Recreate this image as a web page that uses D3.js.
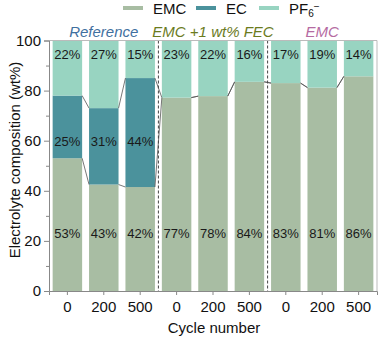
<!DOCTYPE html>
<html>
<head>
<meta charset="utf-8">
<script src="https://cdn.jsdelivr.net/npm/d3@7"></script>
<style>
  body { margin: 0; background: #fff; }
  text { font-family: "Liberation Sans", Arial, sans-serif; }
</style>
</head>
<body>
<svg class="chart" width="380" height="339"></svg>
<script>
// cycle number of each bar, and the electrolyte group it belongs to
var cycles = ["0", "200", "500", "0", "200", "500", "0", "200", "500"];
var groups = ["Reference", "EMC +1 wt% FEC", "EMC"];
var groupColors = ["#3f70a0", "#6b7b1e", "#b56ba2"];

// composition in wt%
var emc = [53, 42.5, 41.5, 77.2, 77.8, 83.5, 83, 81.2, 85.7];
var ec = [25, 30.5, 43.5, 0, 0, 0, 0, 0, 0];
var pf6 = [22, 27, 15, 22.8, 22.2, 16.5, 17, 18.8, 14.3];

// printed labels
var emcLabels = ["53%", "43%", "42%", "77%", "78%", "84%", "83%", "81%", "86%"];
var ecLabels = ["25%", "31%", "44%"];
var pf6Labels = ["22%", "27%", "15%", "23%", "22%", "16%", "17%", "19%", "14%"];

var colEMC = "#a8bda3",
  colEC = "#4b929c",
  colPF6 = "#98d4c1";

var plotLeft = 49, plotRight = 377, plotTop = 40.5, plotBottom = 291;

var svg = d3.select(".chart");

var x = d3.scaleBand()
  .domain(d3.range(cycles.length))
  .range([plotLeft, plotRight])
  .paddingInner(0.19)
  .paddingOuter(0.1);

var y = d3.scaleLinear().domain([0, 100]).range([plotBottom, plotTop]);

var stacks = cycles.map(function(c, i) {
  return [
    { y0: 0, y1: emc[i], color: colEMC },
    { y0: emc[i], y1: emc[i] + ec[i], color: colEC },
    { y0: emc[i] + ec[i], y1: emc[i] + ec[i] + pf6[i], color: colPF6 }
  ];
});

// bars
var bars = svg.selectAll("g.bar")
  .data(stacks)
  .enter()
  .append("g")
  .attr("class", "bar")
  .attr("transform", function(d, i) { return "translate(" + x(i) + ",0)"; });

bars.selectAll("rect")
  .data(function(d) { return d.filter(function(s) { return s.y1 > s.y0; }); })
  .enter()
  .append("rect")
  .attr("x", 0)
  .attr("width", x.bandwidth())
  .attr("y", function(s) { return y(s.y1); })
  .attr("height", function(s) { return y(s.y0) - y(s.y1); })
  .attr("fill", function(s) { return s.color; });

// connectors between neighbouring bars
var tops = [emc, emc.map(function(v, i) { return v + ec[i]; })];
tops.forEach(function(t) {
  for (var i = 0; i < cycles.length - 1; i++) {
    svg.append("line")
      .attr("x1", x(i) + x.bandwidth())
      .attr("x2", x(i + 1))
      .attr("y1", y(t[i]))
      .attr("y2", y(t[i + 1]))
      .attr("stroke", "#555")
      .attr("stroke-width", 0.8);
  }
});

// group separators
[3, 6].forEach(function(i) {
  var xs = (x(i - 1) + x.bandwidth() + x(i)) / 2;
  svg.append("line")
    .attr("x1", xs).attr("x2", xs)
    .attr("y1", plotTop).attr("y2", plotBottom)
    .attr("stroke", "#444")
    .attr("stroke-width", 1)
    .attr("stroke-dasharray", "3,2");
});

// value labels
function addLabels(labels, yv) {
  svg.selectAll(null)
    .data(labels)
    .enter()
    .append("text")
    .attr("x", function(d, i) { return x(i) + x.bandwidth() / 2; })
    .attr("y", y(yv))
    .attr("dy", "0.35em")
    .attr("text-anchor", "middle")
    .attr("font-size", 13)
    .attr("fill", "#1a1a1a")
    .text(function(d) { return d; });
}
addLabels(pf6Labels, 94.3);
addLabels(ecLabels, 59.8);
addLabels(emcLabels, 22.8);

// frame
svg.append("line")
  .attr("x1", plotLeft).attr("x2", plotRight).attr("y1", plotTop).attr("y2", plotTop)
  .attr("stroke", "#bbb");
svg.append("line")
  .attr("x1", plotRight).attr("x2", plotRight).attr("y1", plotTop).attr("y2", plotBottom)
  .attr("stroke", "#bbb");

// axes
svg.append("g")
  .attr("transform", "translate(" + plotLeft + ",0)")
  .call(d3.axisLeft(y).tickValues([0, 20, 40, 60, 80, 100]).tickSize(5).tickPadding(3));
svg.append("g")
  .attr("transform", "translate(" + plotLeft + ",0)")
  .call(d3.axisLeft(y).tickValues([10, 30, 50, 70, 90]).tickSize(3).tickFormat(""))
  .select(".domain").remove();

svg.append("g")
  .attr("transform", "translate(0," + plotBottom + ")")
  .call(d3.axisBottom(x).tickSize(4).tickPadding(6).tickFormat(function(i) { return cycles[i]; }));

svg.selectAll(".domain").attr("stroke", "#888");
svg.selectAll(".tick line").attr("stroke", "#888");
svg.selectAll(".tick text")
  .attr("font-size", 15)
  .attr("fill", "#111")
  .style("font-family", "'Liberation Sans', Arial, sans-serif");

// axis titles
svg.append("text")
  .attr("transform", "translate(15,160) rotate(-90)")
  .attr("text-anchor", "middle")
  .attr("dy", "0.35em")
  .attr("font-size", 15)
  .attr("fill", "#111")
  .text("Electrolyte composition (wt%)");

svg.append("text")
  .attr("x", (plotLeft + plotRight) / 2 + 1)
  .attr("y", 333)
  .attr("text-anchor", "middle")
  .attr("font-size", 15)
  .attr("fill", "#111")
  .text("Cycle number");

// group titles
groups.forEach(function(g, k) {
  var cx = x(k * 3 + 1) + x.bandwidth() / 2;
  svg.append("text")
    .attr("x", cx)
    .attr("y", 36.5)
    .attr("text-anchor", "middle")
    .attr("font-size", 15)
    .attr("font-style", "italic")
    .attr("fill", groupColors[k])
    .text(g);
});

// legend
var legend = [
  { name: "EMC", color: colEMC, x: 123 },
  { name: "EC", color: colEC, x: 196 },
  { name: "PF", color: colPF6, x: 259 }
];
legend.forEach(function(l) {
  svg.append("line")
    .attr("x1", l.x).attr("x2", l.x + 20)
    .attr("y1", 8).attr("y2", 8)
    .attr("stroke", l.color)
    .attr("stroke-width", 4);
  var t = svg.append("text")
    .attr("x", l.x + 30)
    .attr("y", 13.5)
    .attr("font-size", 15)
    .attr("fill", "#111")
    .text(l.name);
  if (l.name === "PF") {
    t.append("tspan").attr("font-size", 10).attr("dy", 3.5).text("6");
    t.append("tspan").attr("font-size", 10).attr("dy", -7.5).text("\u2212");
  }
});
</script>
</body>
</html>
